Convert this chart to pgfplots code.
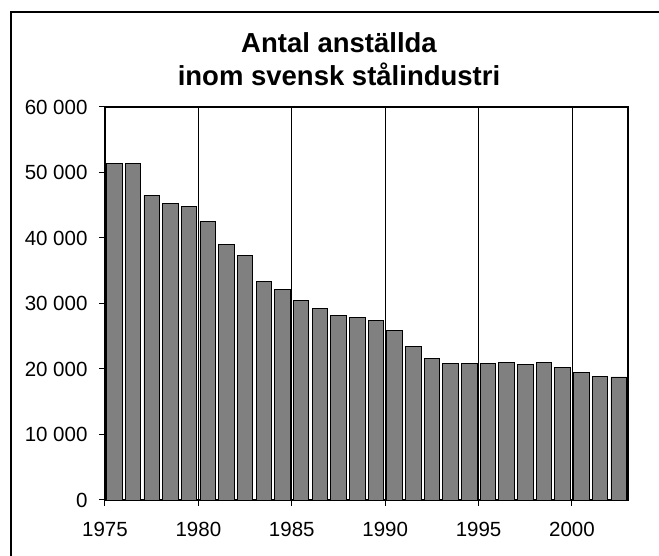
\documentclass[border=0pt]{standalone}
\usepackage{pgfplots}
\pgfplotsset{compat=1.18}
\usepackage{fontspec}
\setmainfont{Liberation Sans}
\pgfplotstableread{
year value
1975.5 51400
1976.5 51400
1977.5 46500
1978.5 45300
1979.5 44850
1980.5 42550
1981.5 38980
1982.5 37350
1983.5 33330
1984.5 32160
1985.5 30430
1986.5 29210
1987.5 28190
1988.5 27840
1989.5 27480
1990.5 25950
1991.5 23410
1992.5 21580
1993.5 20810
1994.5 20810
1995.5 20810
1996.5 20960
1997.5 20660
1998.5 20960
1999.5 20200
2000.5 19430
2001.5 18930
2002.5 18780
}\datatable
\begin{document}
\begin{tikzpicture}[x=1pt,y=1pt]
\useasboundingbox (0,0) rectangle (659,556);
\draw[line width=1.5pt] (11,-5) -- (11,544) -- (670,544);
\node[font=\fontsize{27.5}{30}\selectfont\bfseries, anchor=base] at (339,503) {Antal anställda};
\node[font=\fontsize{27.5}{30}\selectfont\bfseries, anchor=base] at (339,470) {inom svensk stålindustri};
\begin{axis}[
  at={(105pt,56pt)}, anchor=south west,
  scale only axis, width=523pt, height=393pt,
  xmin=1975, xmax=2003, ymin=0, ymax=60000,
  ybar, bar width=0.83,
  xtick={1975,1980,...,2000},
  ytick={0,10000,...,60000},
  scaled y ticks=false,
  xtick pos=bottom, ytick pos=left,
  tick align=outside,
  major tick length=6pt,
  tick style={black, line width=1pt},
  axis line style={line width=2pt},
  xmajorgrids,
  major grid style={black, line width=0.7pt},
  /pgf/number format/assume math mode=true,
  tick label style={font=\fontsize{20.5}{24}\selectfont},
  x tick label style={/pgf/number format/1000 sep={}, yshift=-13pt},
  y tick label style={/pgf/number format/1000 sep={\ }, xshift=-8pt},
]
\addplot[fill=black!50, draw=black, line width=0.8pt] table[x=year,y=value] {\datatable};
\end{axis}
\end{tikzpicture}
\end{document}
